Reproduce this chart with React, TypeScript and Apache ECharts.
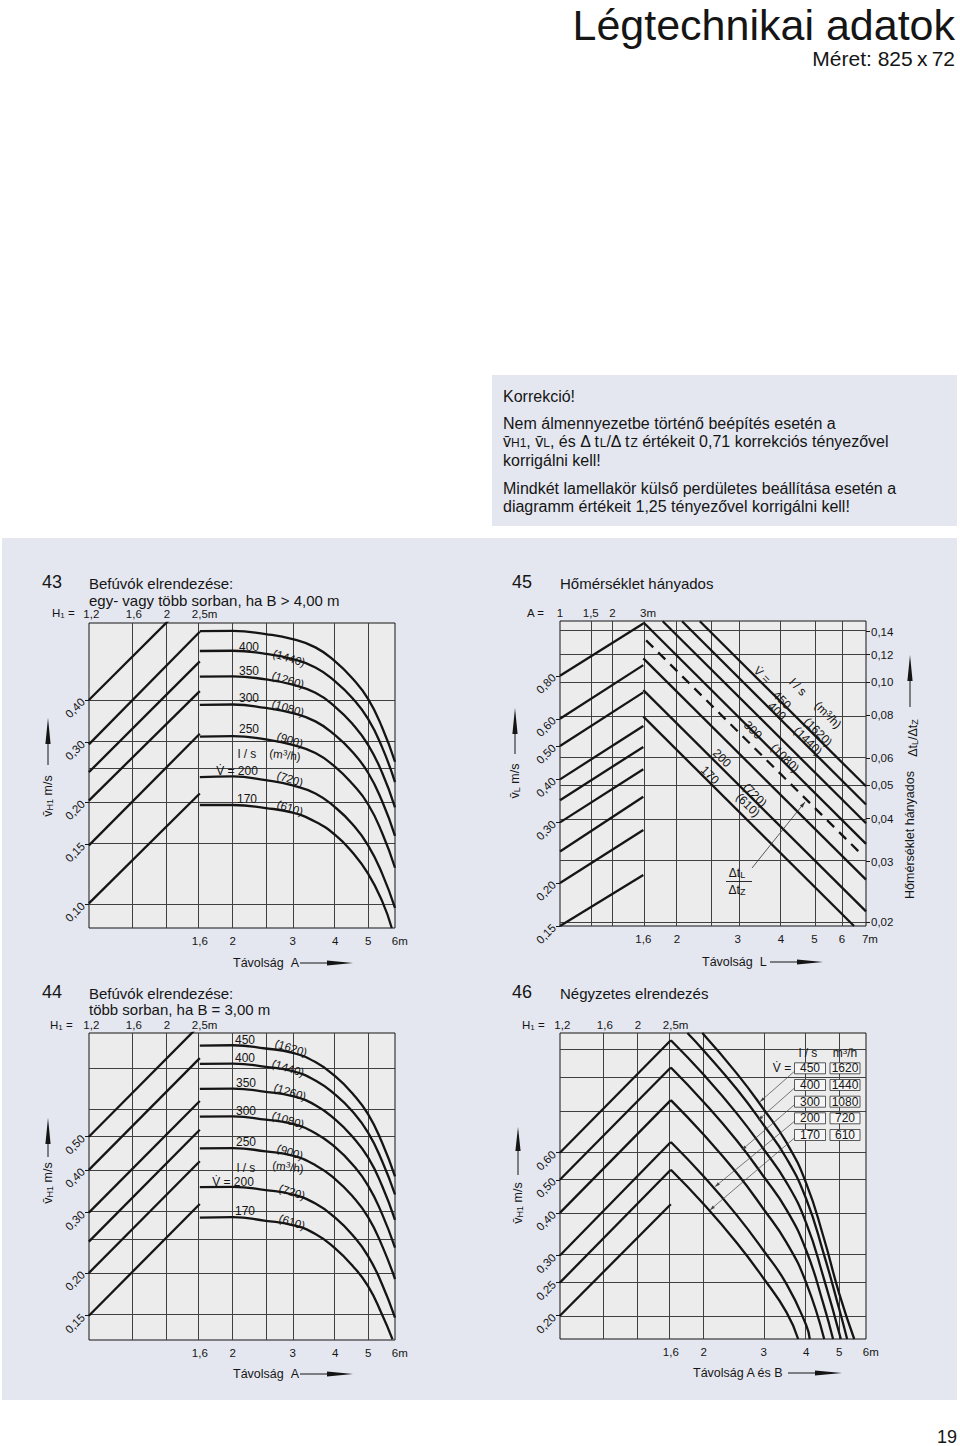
import React, { useEffect, useRef } from "react";
import * as echarts from "echarts";

const FONT = "'Liberation Sans', Arial, Helvetica, sans-serif";
const INK = "#151515";
const PANEL = "#e4e7f0";
const PLOT = "#ececec";
const GRID_INK = "#404040";

const lg = (v: number) => Math.log10(v);

/* ---------------- tick labels ---------------- */
const H1_TICKS = [1.2, 1.6, 2, 2.5];
const H1_LABELS = ["1,2", "1,6", "2", "\u00a0\u00a0\u00a02,5m"];
const A_TICKS = [1.6, 2, 3, 4, 5, 6];
const A_LABELS = ["1,6", "2", "3", "4", "5", "\u00a0\u00a0\u00a06m"];
const L45_TICKS = [1.6, 2, 3, 4, 5, 6, 7];
const L45_LABELS = ["1,6", "2", "3", "4", "5", "6", "\u00a0\u00a0\u00a07m"];
const A45_TICKS = [1, 1.5, 2, 3];
const A45_LABELS = ["1", "1,5", "2", "\u00a0\u00a0\u00a03m"];
const V43_TICKS = [0.1, 0.15, 0.2, 0.3, 0.4];
const V44_TICKS = [0.15, 0.2, 0.3, 0.4, 0.5];
const V45_TICKS = [0.15, 0.2, 0.3, 0.4, 0.5, 0.6, 0.8];
const R45_TICKS = [0.02, 0.03, 0.04, 0.05, 0.06, 0.08, 0.1, 0.12, 0.14];
const V46_TICKS = [0.2, 0.25, 0.3, 0.4, 0.5, 0.6];

/* ---------------- axis ranges ---------------- */
const RANGE_A = [0.7553, 6];
const RANGE_H1 = [1.181, 9.37];
const RANGE_V43 = [0.085, 0.675];
const RANGE_V44 = [0.1274, 1.0045];
const RANGE_L45 = [0.919, 7.04];
const RANGE_A45 = [1, 56.6];
const RANGE_V45 = [0.15, 1.154];
const RANGE_R45 = [0.0195, 0.1503];
const RANGE_V46 = [0.171, 1.344];

/* ---------------- grid lines ---------------- */
const GRID_H1 = [1.6, 2];
const GRID_A = [1.6, 2, 2.5, 3, 4, 5];
const GRID_V43 = [0.1, 0.15, 0.2, 0.25, 0.3, 0.4];
const GRID_V44 = [0.15, 0.2, 0.25, 0.3, 0.4, 0.5, 0.6, 0.8];
const GRID_A45 = [1.5, 2, 3];
const GRID_L45 = [2, 2.5, 3, 4, 5, 6];
const GRID_R45 = [0.02, 0.03, 0.04, 0.05, 0.06, 0.08, 0.1, 0.12, 0.14];
const GRID_A46 = [1.6, 2, 3, 4, 5];
const GRID_V46 = [0.2, 0.25, 0.3, 0.4, 0.5, 0.6, 0.8, 1.0, 1.2];

/* ---------------- chart 43 ---------------- */
const H1_LINE = [1.18, 2.5];
const V43_LEFT_START = [0.4, 0.296, 0.245, 0.202, 0.149, 0.1005];
const V43_LEFT_END = [0.848, 0.636, 0.52, 0.425, 0.318, 0.212];
const A_CURVE = [1.6, 2, 2.5, 3, 3.5, 4, 4.5, 5, 5.5, 6];
const A43_170 = [1.6, 2, 2.5, 3, 3.5, 4, 4.5, 5, 5.5, 5.87];
const V43_450 = [0.639, 0.64, 0.626, 0.605, 0.572, 0.52, 0.463, 0.403, 0.332, 0.263];
const V43_400 = [0.558, 0.559, 0.547, 0.528, 0.499, 0.454, 0.405, 0.352, 0.29, 0.229];
const V43_350 = [0.469, 0.47, 0.46, 0.444, 0.42, 0.382, 0.34, 0.295, 0.244, 0.193];
const V43_300 = [0.387, 0.388, 0.379, 0.366, 0.346, 0.315, 0.281, 0.244, 0.201, 0.159];
const V43_250 = [0.312, 0.313, 0.306, 0.295, 0.279, 0.254, 0.226, 0.197, 0.162, 0.128];
const V43_200 = [0.237, 0.238, 0.232, 0.224, 0.212, 0.193, 0.172, 0.149, 0.123, 0.0974];
const V43_170 = [0.196, 0.196, 0.192, 0.186, 0.175, 0.16, 0.142, 0.123, 0.102, 0.085];

/* ---------------- chart 44 ---------------- */
const V44_LEFT_START = [0.5, 0.4, 0.3, 0.247, 0.2, 0.15];
const V44_LEFT_END = [1.06, 0.848, 0.636, 0.524, 0.424, 0.318];
const A44_170 = [1.6, 2, 2.5, 3, 3.5, 4, 4.5, 5, 5.5, 5.9];
const V44_450 = [0.923, 0.925, 0.905, 0.879, 0.826, 0.751, 0.669, 0.582, 0.48, 0.383];
const V44_400 = [0.816, 0.818, 0.8, 0.777, 0.73, 0.664, 0.592, 0.514, 0.424, 0.339];
const V44_350 = [0.69, 0.691, 0.676, 0.657, 0.618, 0.562, 0.5, 0.435, 0.359, 0.286];
const V44_300 = [0.572, 0.573, 0.561, 0.545, 0.512, 0.466, 0.415, 0.36, 0.297, 0.237];
const V44_250 = [0.462, 0.463, 0.453, 0.44, 0.413, 0.376, 0.335, 0.291, 0.24, 0.192];
const V44_200 = [0.356, 0.357, 0.349, 0.339, 0.319, 0.29, 0.258, 0.224, 0.185, 0.148];
const V44_170 = [0.29, 0.291, 0.284, 0.276, 0.26, 0.236, 0.21, 0.183, 0.151, 0.128];

/* ---------------- chart 45 ---------------- */
const A45_LINE = [1, 3];
const V45_LEFT_START = [0.8, 0.6, 0.5, 0.4, 0.348, 0.3, 0.247, 0.2, 0.15];
const V45_LEFT_END = [1.135, 0.859, 0.716, 0.572, 0.497, 0.428, 0.356, 0.285, 0.211];
const L45_FROM = [2.33, 2.07, 1.82, 1.6, 1.6, 1.6, 1.6];
const L45_TO = [7.04, 7.04, 7.04, 7.04, 7.04, 7.04, 6.5];
const R45_FROM = [0.15, 0.15, 0.15, 0.149, 0.117, 0.0946, 0.0792];
const R45_TO = [0.0497, 0.044, 0.0388, 0.0338, 0.0266, 0.0215, 0.0195];
const L45_DASH = [1.63, 6.77];
const R45_DASH = [0.132, 0.0318];

/* ---------------- chart 46 ---------------- */
const V46_LEFT_START = [0.6, 0.5, 0.4, 0.3, 0.25, 0.2];
const V46_LEFT_END = [1.28, 1.065, 0.855, 0.645, 0.535, 0.424];
const A46_T2 = [1.98, 2.5, 3, 3.5, 4, 4.5, 5, 5.54];
const V46_T2 = [1.344, 1.024, 0.804, 0.643, 0.489, 0.34, 0.233, 0.171];
const A46_T1 = [1.79, 2, 2.5, 3, 3.5, 4, 4.5, 5, 5.28];
const V46_T1 = [1.344, 1.193, 0.921, 0.723, 0.578, 0.44, 0.305, 0.21, 0.171];
const A46_P1 = [1.6, 2, 2.5, 3, 3.5, 4, 4.5, 5.06];
const V46_P1 = [1.28, 1.014, 0.782, 0.614, 0.4915, 0.374, 0.259, 0.171];
const A46_P2 = [1.6, 2, 2.5, 3, 3.5, 4, 4.5, 4.8];
const V46_P2 = [1.065, 0.843, 0.651, 0.511, 0.409, 0.311, 0.216, 0.171];
const A46_P3 = [1.6, 2, 2.5, 3, 3.5, 4, 4.52];
const V46_P3 = [0.855, 0.677, 0.523, 0.41, 0.328, 0.25, 0.171];
const A46_P4 = [1.6, 2, 2.5, 3, 3.5, 4, 4.1];
const V46_P4 = [0.645, 0.511, 0.394, 0.31, 0.248, 0.188, 0.171];
const A46_P5 = [1.6, 2, 2.5, 3, 3.5, 3.79];
const V46_P5 = [0.535, 0.424, 0.327, 0.257, 0.205, 0.171];
const FLOW46_LS = ["450", "400", "300", "200", "170"];
const FLOW46_M3H = ["1620", "1440", "1080", "720", "610"];

/* ---------------- helpers ---------------- */
type P = [number, number];
const pts = (xs: number[], ys: number[]): P[] => xs.map((x, i) => [x, ys[i]] as P);

function xAxisDef(gridIndex: number, position: string, range: number[], ticks: number[], labels: string[], margin: number) {
  return {
    type: "value",
    gridIndex,
    position,
    min: lg(range[0]),
    max: lg(range[1]),
    axisLine: { show: false, onZero: false },
    splitLine: { show: false },
    axisTick: { show: false },
    axisLabel: {
      customValues: ticks.map(lg),
      margin,
      fontSize: 11.5,
      fontFamily: FONT,
      color: INK,
      formatter: (val: number) => {
        const i = ticks.findIndex((t) => Math.abs(lg(t) - val) < 1e-6);
        return i >= 0 ? labels[i] : "";
      },
    },
  };
}

function yAxisDef(gridIndex: number, position: string, range: number[], ticks: number[], rotate: number, margin: number) {
  return {
    type: "value",
    gridIndex,
    position,
    min: lg(range[0]),
    max: lg(range[1]),
    axisLine: { show: false, onZero: false },
    splitLine: { show: false },
    axisTick: { show: true, customValues: ticks.map(lg), length: 4, lineStyle: { color: INK, width: 1 } },
    axisLabel: {
      customValues: ticks.map(lg),
      rotate,
      margin,
      fontSize: 11.5,
      fontFamily: FONT,
      color: INK,
      formatter: (val: number) => Math.pow(10, val).toFixed(2).replace(".", ","),
    },
  };
}

function seriesLine(xi: number, yi: number, data: P[], smooth: number | boolean = false, dashed = false) {
  return {
    type: "line",
    xAxisIndex: xi,
    yAxisIndex: yi,
    data: data.map(([x, y]) => [lg(x), lg(y)]),
    symbol: "none",
    showSymbol: false,
    silent: true,
    clip: true,
    z: 3,
    smooth,
    lineStyle: { color: INK, width: 2.3, type: dashed ? [10, 7] : "solid", cap: "butt", join: "round" },
    emphasis: { disabled: true },
    animation: false,
  };
}

function gridLines(xi: number, yi: number, xs: number[], ys: number[], anchor: P) {
  return {
    type: "line",
    xAxisIndex: xi,
    yAxisIndex: yi,
    data: [[lg(anchor[0]), lg(anchor[1])]],
    symbol: "none",
    showSymbol: false,
    silent: true,
    z: 1,
    lineStyle: { opacity: 0 },
    markLine: {
      silent: true,
      z: 1,
      symbol: ["none", "none"],
      label: { show: false },
      emphasis: { disabled: true },
      animation: false,
      lineStyle: { color: GRID_INK, width: 1, type: "solid" },
      data: [...xs.map((x) => ({ xAxis: lg(x) })), ...ys.map((y) => ({ yAxis: lg(y) }))],
    },
  };
}

function richStyles(size: number) {
  return {
    s: { fontSize: Math.round(size * 0.72), fontFamily: FONT, fill: INK, verticalAlign: "bottom", lineHeight: Math.round(size * 0.45) },
    p: { fontSize: Math.round(size * 0.68), fontFamily: FONT, fill: INK, verticalAlign: "top", lineHeight: Math.round(size * 0.5) },
  };
}

function txt(x: number, y: number, text: string, size = 12, o: any = {}) {
  const align = o.align || "left";
  const style: any = {
    text,
    fontSize: size,
    fontFamily: FONT,
    fill: o.fill || INK,
    align,
    textAlign: align,
    verticalAlign: "middle",
    textVerticalAlign: "middle",
  };
  if (o.rich) style.rich = richStyles(size);
  return { type: "text", x, y, rotation: o.rot || 0, silent: true, z: 20, style };
}

function gline(x1: number, y1: number, x2: number, y2: number, w = 1, color = INK) {
  return { type: "line", shape: { x1, y1, x2, y2 }, style: { stroke: color, lineWidth: w }, silent: true, z: 20 };
}
function poly(points: number[][], fill = INK) {
  return { type: "polygon", shape: { points }, style: { fill }, silent: true, z: 20 };
}
const upArrow = (x: number, tip: number, base: number) => poly([[x, tip], [x - 2.6, base], [x + 2.6, base]]);
const rightArrow = (x0: number, x1: number, y: number) => poly([[x0, y - 2.6], [x1, y], [x0, y + 2.6]]);
function headAt(x1: number, y1: number, x2: number, y2: number, len = 6, half = 1.8, color = "#333") {
  const dx = x2 - x1, dy = y2 - y1, d = Math.hypot(dx, dy);
  const ux = dx / d, uy = dy / d;
  const bx = x2 - ux * len, by = y2 - uy * len;
  return poly([[x2, y2], [bx - uy * half, by + ux * half], [bx + uy * half, by - ux * half]], color);
}
function rect(x: number, y: number, w: number, h: number, fill: string, z = -10, stroke?: string) {
  return {
    type: "rect",
    shape: { x, y, width: w, height: h },
    style: stroke ? { fill, stroke, lineWidth: 0.8 } : { fill },
    silent: true,
    z,
  };
}

/* ---------------- option ---------------- */
function buildOption() {
  const gridBase = { show: true, backgroundColor: PLOT, borderColor: INK, borderWidth: 1, containLabel: false, outerBoundsMode: "none", z: 0 };
  const grid = [
    { ...gridBase, left: 89, top: 623, width: 306, height: 305 },
    { ...gridBase, left: 89, top: 1033, width: 306, height: 307 },
    { ...gridBase, left: 560, top: 621, width: 306, height: 305 },
    { ...gridBase, left: 560, top: 1033, width: 306, height: 306 },
  ];

  const xAxis = [
    xAxisDef(0, "bottom", RANGE_A, A_TICKS, A_LABELS, 7), // 0
    xAxisDef(0, "top", RANGE_H1, H1_TICKS, H1_LABELS, 3), // 1
    xAxisDef(1, "bottom", RANGE_A, A_TICKS, A_LABELS, 7), // 2
    xAxisDef(1, "top", RANGE_H1, H1_TICKS, H1_LABELS, 2), // 3
    xAxisDef(2, "bottom", RANGE_L45, L45_TICKS, L45_LABELS, 7), // 4
    xAxisDef(2, "top", RANGE_A45, A45_TICKS, A45_LABELS, 2), // 5
    xAxisDef(3, "bottom", RANGE_A, A_TICKS, A_LABELS, 7), // 6
    xAxisDef(3, "top", RANGE_H1, H1_TICKS, H1_LABELS, 2), // 7
  ];
  const yAxis = [
    yAxisDef(0, "left", RANGE_V43, V43_TICKS, 45, 6), // 0
    yAxisDef(1, "left", RANGE_V44, V44_TICKS, 45, 6), // 1
    yAxisDef(2, "left", RANGE_V45, V45_TICKS, 45, 6), // 2
    yAxisDef(2, "right", RANGE_R45, R45_TICKS, 0, 5), // 3
    yAxisDef(3, "left", RANGE_V46, V46_TICKS, 45, 6), // 4
  ];

  const SM = 0.5;
  const series: any[] = [];
  // chart 43
  series.push(gridLines(1, 0, GRID_H1, [], [1.5, 0.2]));
  series.push(gridLines(0, 0, GRID_A, GRID_V43, [2, 0.2]));
  V43_LEFT_START.forEach((v, i) => series.push(seriesLine(1, 0, pts(H1_LINE, [v, V43_LEFT_END[i]]))));
  [V43_450, V43_400, V43_350, V43_300, V43_250, V43_200].forEach((v) => series.push(seriesLine(0, 0, pts(A_CURVE, v), SM)));
  series.push(seriesLine(0, 0, pts(A43_170, V43_170), SM));
  // chart 44
  series.push(gridLines(3, 1, GRID_H1, [], [1.5, 0.3]));
  series.push(gridLines(2, 1, GRID_A, GRID_V44, [2, 0.3]));
  V44_LEFT_START.forEach((v, i) => series.push(seriesLine(3, 1, pts(H1_LINE, [v, V44_LEFT_END[i]]))));
  [V44_450, V44_400, V44_350, V44_300, V44_250, V44_200].forEach((v) => series.push(seriesLine(2, 1, pts(A_CURVE, v), SM)));
  series.push(seriesLine(2, 1, pts(A44_170, V44_170), SM));
  // chart 45
  series.push(gridLines(5, 2, GRID_A45, [], [1.5, 0.3]));
  series.push(gridLines(4, 3, GRID_L45, GRID_R45, [2, 0.05]));
  V45_LEFT_START.forEach((v, i) => series.push(seriesLine(5, 2, pts(A45_LINE, [v, V45_LEFT_END[i]]))));
  L45_FROM.forEach((l, i) => series.push(seriesLine(4, 3, pts([l, L45_TO[i]], [R45_FROM[i], R45_TO[i]]))));
  series.push(seriesLine(4, 3, pts(L45_DASH, R45_DASH), false, true));
  // chart 46
  series.push(gridLines(7, 4, GRID_H1, [], [1.5, 0.3]));
  series.push(gridLines(6, 4, GRID_A46, GRID_V46, [2, 0.3]));
  V46_LEFT_START.forEach((v, i) => series.push(seriesLine(7, 4, pts(H1_LINE, [v, V46_LEFT_END[i]]))));
  [
    [A46_T2, V46_T2],
    [A46_T1, V46_T1],
    [A46_P1, V46_P1],
    [A46_P2, V46_P2],
    [A46_P3, V46_P3],
    [A46_P4, V46_P4],
    [A46_P5, V46_P5],
  ].forEach(([a, v]) => series.push(seriesLine(6, 4, pts(a, v), SM)));

  const R = Math.PI / 2;
  const D = -Math.PI / 4;
  const g: any[] = [];
  // page
  g.push(rect(492, 375, 465, 151, PANEL));
  g.push(rect(2, 538, 955, 862, PANEL));
  g.push(txt(955, 25, "Légtechnikai adatok", 43, { align: "right" }));
  g.push(txt(955, 58, "Méret: 825\u2009x\u200972", 21, { align: "right" }));
  g.push(txt(503, 396, "Korrekció!", 16));
  g.push(txt(503, 423, "Nem álmennyezetbe történő beépítés esetén a", 16));
  g.push(txt(503, 441, "v\u0304{s|H1}, v\u0304{s|L}, és Δ t{s|L}/Δ t{s|Z} értékeit 0,71 korrekciós tényezővel", 16, { rich: true }));
  g.push(txt(503, 460, "korrigálni kell!", 16));
  g.push(txt(503, 488, "Mindkét lamellakör külső perdületes beállítása esetén a", 16));
  g.push(txt(503, 506, "diagramm értékeit 1,25 tényezővel korrigálni kell!", 16));
  g.push(txt(957, 1437, "19", 18, { align: "right" }));

  // chart 43
  g.push(txt(42, 582, "43", 18));
  g.push(txt(89, 583, "Befúvók elrendezése:", 15));
  g.push(txt(89, 600, "egy- vagy több sorban, ha B > 4,00 m", 15));
  g.push(txt(52, 613, "H{s|1} =", 11.5, { rich: true }));
  g.push(txt(48, 796, "v\u0304{s|H1} m/s", 12.5, { rich: true, rot: R, align: "center" }));
  g.push(gline(48, 744, 48, 765));
  g.push(upArrow(48, 718, 744));
  g.push(txt(233, 963, "Távolság\u00a0\u00a0A", 12.5));
  g.push(gline(300, 963, 328, 963));
  g.push(rightArrow(327, 353, 963));
  const lab43: [string, number, number, string, number, number][] = [
    ["400", 249, 647, "(1440)", 289, 658],
    ["350", 249, 671, "(1260)", 288, 680],
    ["300", 249, 698, "(1080)", 288, 708],
    ["250", 249, 729, "(900)", 290, 740],
    ["V\u0307 = 200", 237, 771, "(720)", 290, 779],
    ["170", 247, 799, "(610)", 290, 808],
  ];
  lab43.forEach(([a, ax, ay, b, bx, by]) => {
    g.push(txt(ax, ay, a, 12, { align: "center" }));
    g.push(txt(bx, by, b, 11.5, { align: "center", rot: -0.3 }));
  });
  g.push(txt(247, 754, "l / s", 12, { align: "center" }));
  g.push(txt(285, 755, "(m{p|3}/h)", 11.5, { align: "center", rot: -0.12, rich: true }));

  // chart 44
  g.push(txt(42, 992, "44", 18));
  g.push(txt(89, 993, "Befúvók elrendezése:", 15));
  g.push(txt(89, 1009, "több sorban, ha B = 3,00 m", 15));
  g.push(txt(50, 1025, "H{s|1} =", 11.5, { rich: true }));
  g.push(txt(48, 1183, "v\u0304{s|H1} m/s", 12.5, { rich: true, rot: R, align: "center" }));
  g.push(gline(48, 1144, 48, 1157));
  g.push(upArrow(48, 1118, 1144));
  g.push(txt(233, 1374, "Távolság\u00a0\u00a0A", 12.5));
  g.push(gline(300, 1374, 328, 1374));
  g.push(rightArrow(327, 353, 1374));
  const lab44: [string, number, number, string, number, number][] = [
    ["450", 245, 1040, "(1620)", 291, 1048],
    ["400", 245, 1058, "(1440)", 288, 1068],
    ["350", 246, 1083, "(1260)", 290, 1092],
    ["300", 246, 1111, "(1080)", 288, 1120],
    ["250", 246, 1142, "(900)", 290, 1152],
    ["V\u0307 = 200", 233, 1182, "(720)", 292, 1192],
    ["170", 245, 1211, "(610)", 292, 1222],
  ];
  lab44.forEach(([a, ax, ay, b, bx, by]) => {
    g.push(txt(ax, ay, a, 12, { align: "center" }));
    g.push(txt(bx, by, b, 11.5, { align: "center", rot: -0.3 }));
  });
  g.push(txt(246, 1168, "l / s", 12, { align: "center" }));
  g.push(txt(288, 1167, "(m{p|3}/h)", 11.5, { align: "center", rot: -0.12, rich: true }));

  // chart 45
  g.push(txt(512, 582, "45", 18));
  g.push(txt(560, 583, "Hőmérséklet hányados", 15));
  g.push(txt(527, 613, "A =", 11.5));
  g.push(txt(515, 781, "v\u0304{s|L} m/s", 12.5, { rich: true, rot: R, align: "center" }));
  g.push(gline(515, 734, 515, 754));
  g.push(upArrow(515, 708, 734));
  g.push(txt(910, 835, "Hőmérséklet hányados", 12.5, { rot: R, align: "center" }));
  g.push(txt(913, 738, "Δt{s|L}/Δt{s|Z}", 12.5, { rich: true, rot: R, align: "center" }));
  g.push(upArrow(910, 655, 681));
  g.push(gline(910, 681, 910, 707));
  g.push(txt(702, 962, "Távolság\u00a0\u00a0L", 12.5));
  g.push(gline(770, 962, 798, 962));
  g.push(rightArrow(797, 823, 962));
  const lab45: [string, number, number][] = [
    ["V\u0307 =", 762, 675],
    ["l / s", 798, 687],
    ["450", 782, 700],
    ["(1620)", 818, 732],
    ["400", 777, 711],
    ["(1440)", 808, 741],
    ["300", 753, 730],
    ["(1080)", 785, 758],
    ["200", 722, 758],
    ["(720)", 755, 795],
    ["170", 710, 775],
    ["(610)", 748, 805],
  ];
  lab45.forEach(([t, x, y]) => g.push(txt(x, y, t, 12, { align: "center", rot: D })));
  g.push(txt(828, 715, "(m{p|3}/h)", 12, { align: "center", rot: D, rich: true }));
  g.push(txt(737, 873, "Δt{s|L}", 12, { rich: true, align: "center" }));
  g.push(gline(726, 881.5, 752, 881.5, 0.9));
  g.push(txt(737, 890, "Δt{s|Z}", 12, { rich: true, align: "center" }));
  g.push(gline(752, 868, 805, 802, 0.8, "#333"));
  g.push(headAt(752, 868, 805, 802));

  // chart 46
  g.push(txt(512, 992, "46", 18));
  g.push(txt(560, 993, "Négyzetes elrendezés", 15));
  g.push(txt(522, 1025, "H{s|1} =", 11.5, { rich: true }));
  g.push(txt(518, 1203, "v\u0304{s|H1} m/s", 12.5, { rich: true, rot: R, align: "center" }));
  g.push(gline(518, 1151, 518, 1175));
  g.push(upArrow(518, 1127, 1151));
  g.push(txt(693, 1373, "Távolság A és B", 12.5));
  g.push(gline(788, 1373, 816, 1373));
  g.push(rightArrow(815, 842, 1373));
  g.push(txt(808, 1053, "l / s", 12, { align: "center" }));
  g.push(txt(845, 1053, "m{p|3}/h", 12, { align: "center", rich: true }));
  g.push(txt(782, 1068, "V\u0307 =", 12, { align: "center" }));
  const rows46 = [1068.3, 1085, 1101.7, 1118.3, 1135];
  const tips46 = [
    [760, 1101.7],
    [758.3, 1120],
    [741.7, 1150],
    [715, 1186.7],
    [710, 1210],
  ];
  rows46.forEach((y, i) => {
    g.push(rect(794.5, y - 5.5, 31, 11, "#f6f6f6", 15, "#333"));
    g.push(rect(830, y - 5.5, 30, 11, "#f6f6f6", 15, "#333"));
    g.push(txt(810, y, FLOW46_LS[i], 12, { align: "center" }));
    g.push(txt(845, y, FLOW46_M3H[i], 12, { align: "center" }));
    const [tx, ty] = tips46[i];
    g.push(gline(794.5, y + 3, tx, ty, 0.7, "#444"));
    g.push(headAt(794.5, y + 3, tx, ty, 5, 1.6, "#444"));
  });

  return {
    animation: false,
    backgroundColor: "#ffffff",
    textStyle: { fontFamily: FONT },
    grid,
    xAxis,
    yAxis,
    series,
    graphic: { elements: g },
  };
}

export default function App() {
  const ref = useRef<HTMLDivElement>(null);
  useEffect(() => {
    if (!ref.current) return;
    const chart = echarts.init(ref.current, undefined, { renderer: "svg", width: 960, height: 1446 });
    chart.setOption(buildOption() as any);
    return () => chart.dispose();
  }, []);
  return (
    <div
      ref={ref}
      style={{ position: "absolute", left: 0, top: 0, width: 960, height: 1446, background: "#ffffff" }}
    />
  );
}
